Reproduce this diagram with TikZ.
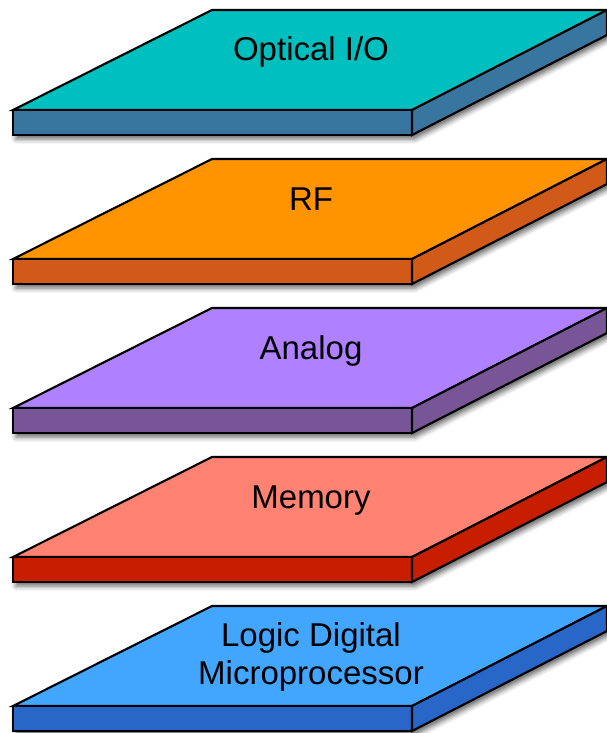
\documentclass[tikz,border=0pt]{standalone}
\usepackage{fontspec}
\setmainfont{Liberation Sans}
\usetikzlibrary{shadows.blur}

\definecolor{opticalTop}{RGB}{0,191,191}
\definecolor{opticalSide}{RGB}{56,118,160}
\definecolor{rfTop}{RGB}{255,147,0}
\definecolor{rfSide}{RGB}{210,90,25}
\definecolor{analogTop}{RGB}{175,128,255}
\definecolor{analogSide}{RGB}{120,85,150}
\definecolor{memoryTop}{RGB}{255,130,115}
\definecolor{memorySide}{RGB}{200,30,0}
\definecolor{logicTop}{RGB}{66,166,255}
\definecolor{logicSide}{RGB}{40,102,200}

\tikzset{
  edge/.style={draw=black, line width=2.1pt, line join=miter},
  slabshadow/.style={fill=white, blur shadow={shadow xshift=3pt, shadow yshift=-4pt,
      shadow blur radius=5pt, shadow opacity=60}},
  layertext/.style={font=\fontsize{33}{38}\selectfont, text=black, inner sep=0pt},
}

% One slab: #1 vertical offset, #2 top colour, #3 side colour, #4 name prefix
\newcommand\layerslab[4]{%
  \begin{scope}[shift={(0,#1)}]
    \coordinate (#4-fl) at (13,100);
    \coordinate (#4-fr) at (412,100);
    \coordinate (#4-br) at (607,0);
    \coordinate (#4-bl) at (212,0);
    \coordinate (#4-dl) at (13,125);
    \coordinate (#4-dr) at (412,125);
    \coordinate (#4-db) at (607,25);
    \path[slabshadow] (#4-fl) -- (#4-bl) -- (#4-br) -- (#4-db) -- (#4-dr) -- (#4-dl) -- cycle;
    \draw[edge, fill=#2] (#4-fl) -- (#4-bl) -- (#4-br) -- (#4-fr) -- cycle;
    \draw[edge, fill=#3] (#4-fl) -- (#4-fr) -- (#4-dr) -- (#4-dl) -- cycle;
    \draw[edge, fill=#3] (#4-fr) -- (#4-br) -- (#4-db) -- (#4-dr) -- cycle;
  \end{scope}}

\begin{document}
\begin{tikzpicture}[x=1pt, y=-1pt]
  \useasboundingbox (0,0) rectangle (607,733);

  \layerslab{10}{opticalTop}{opticalSide}{optical}
  \node[layertext, anchor=base] (opticalLabel) at (311,61) {Optical I/O};

  \layerslab{159}{rfTop}{rfSide}{rf}
  \node[layertext, anchor=base] (rfLabel) at (311,210.5) {RF};

  \layerslab{308}{analogTop}{analogSide}{analog}
  \node[layertext, anchor=base] (analogLabel) at (311,359) {Analog};

  \layerslab{457}{memoryTop}{memorySide}{memory}
  \node[layertext, anchor=base] (memoryLabel) at (311,508) {Memory};

  \layerslab{606}{logicTop}{logicSide}{logic}
  \node[layertext, align=center, anchor=center] (logicLabel) at (311,656.5)
    {Logic Digital\\Microprocessor};
\end{tikzpicture}
\end{document}
